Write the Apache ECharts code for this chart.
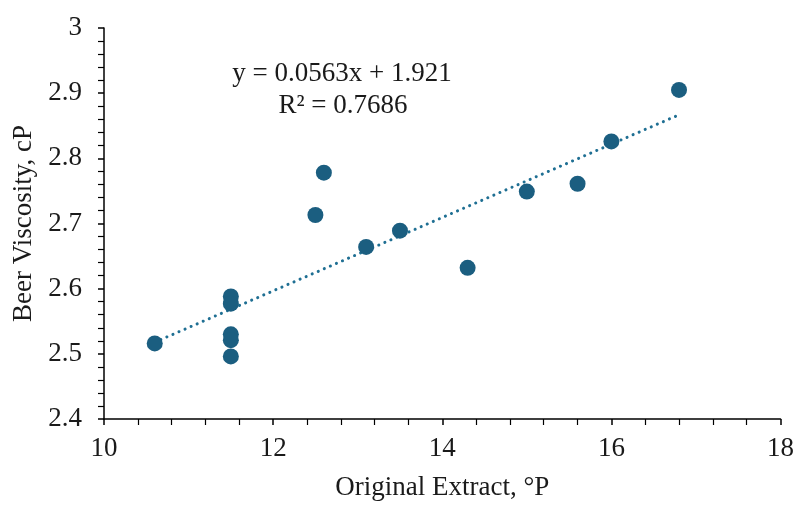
<!DOCTYPE html>
<html>
<head>
<meta charset="utf-8">
<script src="https://cdn.jsdelivr.net/npm/echarts@6/dist/echarts.min.js"></script>
<style>html,body{margin:0;padding:0;background:#fff}#c{width:797px;height:506px}</style>
</head>
<body>
<div id="c"></div>
<script>
const extract = [10.6, 11.5, 11.5, 11.5, 11.5, 11.5, 12.5, 12.6, 13.1, 13.5, 14.3, 15.0, 15.6, 16.0, 16.8];
const viscosity = [2.516, 2.588, 2.577, 2.530, 2.521, 2.496, 2.713, 2.778, 2.664, 2.689, 2.632, 2.749, 2.761, 2.826, 2.905];
const slope = 0.0563, intercept = 1.921;
const trendX = [10.6, 16.8];
const eqText = 'y = 0.0563x + 1.921';
const r2Text = 'R² = 0.7686';
const xTitle = 'Original Extract, °P';
const yTitle = 'Beer Viscosity, cP';

const font = 'Liberation Serif';
const col = '#1b5e80';
const txt = '#1a1a1a';
const chart = echarts.init(document.getElementById('c'), null, {renderer: 'canvas'});
chart.setOption({
  animation: false,
  backgroundColor: '#fff',
  grid: {left: 104, top: 28, right: 15, bottom: 86},
  xAxis: {
    type: 'value', min: 10, max: 18, interval: 2,
    name: xTitle, nameLocation: 'middle', nameGap: 55,
    nameTextStyle: {fontFamily: font, fontSize: 27, color: txt},
    axisLine: {show: true, onZero: false, lineStyle: {color: '#000', width: 1.5}},
    axisTick: {show: true, length: 6, lineStyle: {color: '#000', width: 1.5}},
    minorTick: {show: true, splitNumber: 5, length: 6, lineStyle: {color: '#000', width: 1.2}},
    axisLabel: {fontFamily: font, fontSize: 27, color: txt, margin: 16},
    splitLine: {show: false}
  },
  yAxis: {
    type: 'value', min: 2.4, max: 3, interval: 0.1,
    name: yTitle, nameLocation: 'middle', nameGap: 66,
    nameTextStyle: {fontFamily: font, fontSize: 27, color: txt},
    axisLine: {show: true, onZero: false, lineStyle: {color: '#000', width: 1.5}},
    axisTick: {show: true, length: 6, lineStyle: {color: '#000', width: 1.5}},
    minorTick: {show: true, splitNumber: 5, length: 6, lineStyle: {color: '#000', width: 1.2}},
    axisLabel: {fontFamily: font, fontSize: 27, color: txt, margin: 22,
      formatter: v => String(Math.round(v * 10) / 10)},
    splitLine: {show: false}
  },
  series: [
    {
      type: 'line',
      data: trendX.map(x => [x, slope * x + intercept]),
      showSymbol: false, symbol: 'none',
      lineStyle: {color: '#1f6f93', width: 3, type: [0.1, 6.5], cap: 'round'},
      z: 1
    },
    {
      type: 'scatter',
      data: extract.map((x, i) => [x, viscosity[i]]),
      symbol: 'circle', symbolSize: 16,
      itemStyle: {color: col, opacity: 1},
      z: 2
    }
  ],
  graphic: [
    {type: 'text', x: 342, y: 74, style: {text: eqText, font: '27px "Liberation Serif"', fill: txt, textAlign: 'center', textVerticalAlign: 'middle'}},
    {type: 'text', x: 343, y: 106, style: {text: r2Text, font: '27px "Liberation Serif"', fill: txt, textAlign: 'center', textVerticalAlign: 'middle'}}
  ]
});
</script>
</body>
</html>
